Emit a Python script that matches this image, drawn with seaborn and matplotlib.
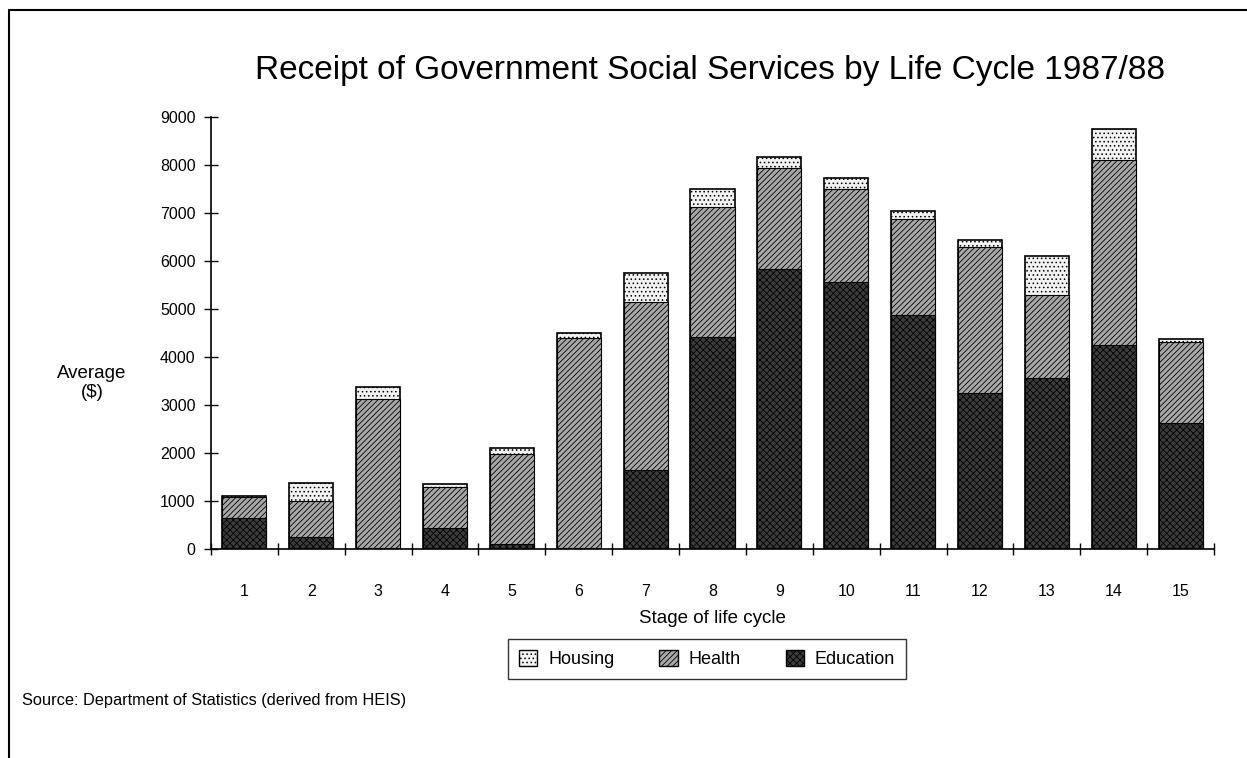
import matplotlib
matplotlib.use('Agg')
import matplotlib.pyplot as plt
from matplotlib.patches import Patch
from matplotlib.lines import Line2D
import seaborn as sns
import pandas as pd

# --- datos ---
stages = [str(i) for i in range(1, 16)]
education = [650, 240, 20, 430, 100, 20, 1640, 4420, 5830, 5560, 4880, 3260, 3560, 4240, 2620]
health = [430, 750, 3110, 870, 1870, 4380, 3500, 2700, 2100, 1940, 2000, 3030, 1740, 3870, 1700]
housing = [30, 380, 240, 60, 125, 110, 600, 380, 240, 235, 155, 145, 805, 640, 50]

df = pd.DataFrame({'stage': stages, 'education': education, 'health': health, 'housing': housing})
df['health_top'] = df['education'] + df['health']
df['total'] = df['health_top'] + df['housing']

sns.set_theme(style='white')
plt.rcParams['font.family'] = ['Liberation Sans', 'DejaVu Sans']
plt.rcParams['hatch.linewidth'] = 0.6
for k in ['text.color', 'axes.labelcolor', 'xtick.color', 'ytick.color']:
    plt.rcParams[k] = 'black'

fig = plt.figure(figsize=(12.47, 7.58), dpi=100)
ax = fig.add_axes([211 / 1247, 1 - 549 / 758, (1214 - 211) / 1247, (549 - 117) / 758])

c_house, c_health, c_edu = '#f2f2f2', '#a8a8a8', '#3c3c3c'
h_house, h_health, h_edu = '....', '//////', 'xxxxx'

# capas apiladas: total -> salud -> educacion
sns.barplot(data=df, x='stage', y='total', color=c_house, width=0.66, saturation=1,
            edgecolor='black', linewidth=1.2, hatch=h_house, ax=ax)
sns.barplot(data=df, x='stage', y='health_top', color=c_health, width=0.66, saturation=1,
            edgecolor='black', linewidth=0.8, hatch=h_health, ax=ax)
sns.barplot(data=df, x='stage', y='education', color=c_edu, width=0.66, saturation=1,
            edgecolor='black', linewidth=0.8, hatch=h_edu, ax=ax)

ax.set_xlim(-0.5, len(stages) - 0.5)
ax.set_ylim(0, 9000)
ax.set_yticks(range(0, 9001, 1000))
ax.set_xticks(range(len(stages)))
ax.set_xticklabels(stages)
ax.set_xticks([i - 0.5 for i in range(len(stages) + 1)], minor=True)
ax.tick_params(axis='x', which='major', length=0, pad=25, labelsize=11.5)
ax.tick_params(axis='x', which='minor', direction='inout', length=9, width=1, bottom=True)
ax.tick_params(axis='y', direction='inout', length=10, width=1, left=True, labelsize=11.5, pad=6)

for s in ['top', 'right']:
    ax.spines[s].set_visible(False)
for s in ['left', 'bottom']:
    ax.spines[s].set_color('black')
    ax.spines[s].set_linewidth(1.2)

ax.set_xlabel('Stage of life cycle', fontsize=13.5, labelpad=8)
ax.set_ylabel('')
fig.text(92 / 1247, 1 - 383 / 758, 'Average\n($)', ha='center', va='center', fontsize=13.5, linespacing=1.1)

fig.text(710 / 1247, 1 - 70 / 758, 'Receipt of Government Social Services by Life Cycle 1987/88',
         ha='center', va='center', fontsize=24)

handles = [Patch(facecolor=c_house, edgecolor='black', hatch=h_house, label='Housing'),
           Patch(facecolor=c_health, edgecolor='black', hatch=h_health, label='Health'),
           Patch(facecolor=c_edu, edgecolor='black', hatch=h_edu, label='Education')]
leg = fig.legend(handles=handles, loc='center', bbox_to_anchor=(707 / 1247, 1 - 659 / 758),
                 ncol=3, frameon=True, fancybox=False, fontsize=13, handlelength=1.0,
                 handleheight=1.0, columnspacing=2.5, handletextpad=0.6, borderpad=0.6)
leg.get_frame().set_edgecolor('black')
leg.get_frame().set_linewidth(1.0)

fig.text(22 / 1247, 1 - 700 / 758, 'Source: Department of Statistics (derived from HEIS)',
         ha='left', va='center', fontsize=11.8)

# marco de la pagina
fig.add_artist(Line2D([9 / 1247, 1], [1 - 10 / 758, 1 - 10 / 758], color='black', linewidth=1.5))
fig.add_artist(Line2D([9 / 1247, 9 / 1247], [0, 1 - 10 / 758], color='black', linewidth=1.5))

fig.savefig('out.png', dpi=100)
